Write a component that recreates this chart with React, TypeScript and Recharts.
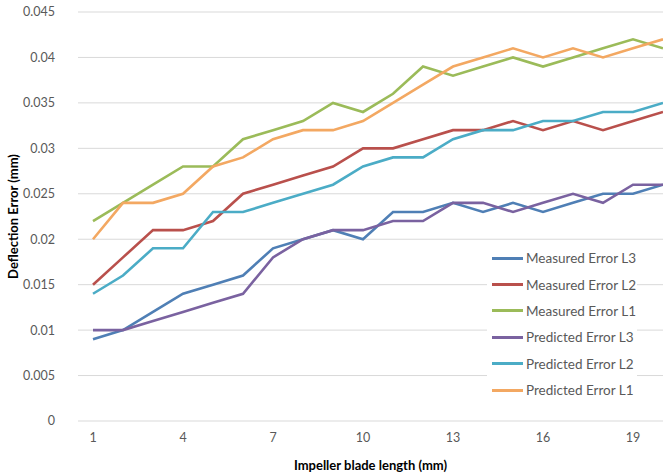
import React from "react"
import { LineChart, Line, XAxis, YAxis, CartesianGrid, Label } from "recharts"

// blade length positions 1..20
const lengths = [1, 2, 3, 4, 5, 6, 7, 8, 9, 10, 11, 12, 13, 14, 15, 16, 17, 18, 19, 20]

const measuredL3 = [0.009, 0.01, 0.012, 0.014, 0.015, 0.016, 0.019, 0.02, 0.021, 0.02, 0.023, 0.023, 0.024, 0.023, 0.024, 0.023, 0.024, 0.025, 0.025, 0.026]
const measuredL2 = [0.015, 0.018, 0.021, 0.021, 0.022, 0.025, 0.026, 0.027, 0.028, 0.03, 0.03, 0.031, 0.032, 0.032, 0.033, 0.032, 0.033, 0.032, 0.033, 0.034]
const measuredL1 = [0.022, 0.024, 0.026, 0.028, 0.028, 0.031, 0.032, 0.033, 0.035, 0.034, 0.036, 0.039, 0.038, 0.039, 0.04, 0.039, 0.04, 0.041, 0.042, 0.041]
const predictedL3 = [0.01, 0.01, 0.011, 0.012, 0.013, 0.014, 0.018, 0.02, 0.021, 0.021, 0.022, 0.022, 0.024, 0.024, 0.023, 0.024, 0.025, 0.024, 0.026, 0.026]
const predictedL2 = [0.014, 0.016, 0.019, 0.019, 0.023, 0.023, 0.024, 0.025, 0.026, 0.028, 0.029, 0.029, 0.031, 0.032, 0.032, 0.033, 0.033, 0.034, 0.034, 0.035]
const predictedL1 = [0.02, 0.024, 0.024, 0.025, 0.028, 0.029, 0.031, 0.032, 0.032, 0.033, 0.035, 0.037, 0.039, 0.04, 0.041, 0.04, 0.041, 0.04, 0.041, 0.042]

const xTicks = [1, 4, 7, 10, 13, 16, 19]
const yTicks = [0, 0.005, 0.01, 0.015, 0.02, 0.025, 0.03, 0.035, 0.04, 0.045]

const series = [
    { key: "mL3", name: "Measured Error L3", color: "#4f7fb5", values: measuredL3 },
    { key: "mL2", name: "Measured Error L2", color: "#b9504c", values: measuredL2 },
    { key: "mL1", name: "Measured Error L1", color: "#9bbb59", values: measuredL1 },
    { key: "pL3", name: "Predicted Error L3", color: "#7a62a0", values: predictedL3 },
    { key: "pL2", name: "Predicted Error L2", color: "#4bacc6", values: predictedL2 },
    { key: "pL1", name: "Predicted Error L1", color: "#f3a862", values: predictedL1 },
]

const data = lengths.map((x, i) => {
    const row: Record<string, number> = { x }
    series.forEach((s) => {
        row[s.key] = s.values[i]
    })
    return row
})

const FONT = "Lato, 'Open Sans', sans-serif"

// legend drawn as an overlay so it doesn't shrink the plot area
const ChartLegend = () => (
    <div style={{ position: "absolute", left: 487, top: 245, width: 150, background: "#fff", fontFamily: FONT }}>
        {series.map((s) => (
            <div key={s.key} style={{ display: "flex", alignItems: "center", height: 26.4 }}>
                <span style={{ display: "inline-block", width: 31, height: 3, background: s.color, marginLeft: 5, marginRight: 3 }} />
                <span style={{ fontSize: 13.5, color: "#595959", whiteSpace: "nowrap" }}>{s.name}</span>
            </div>
        ))}
    </div>
)

// eslint-disable-next-line
const renderYLabel = (props: any) => {
    const { viewBox } = props
    const cy = viewBox.y + viewBox.height / 2
    return (
        <text x={18} y={cy} transform={`rotate(-90 18 ${cy})`} textAnchor="middle" fontSize={13} fontWeight="bold" fill="#000" fontFamily={FONT}>
            Deflection Error (mm)
        </text>
    )
}

export default function App() {
    return (
        <div style={{ position: "absolute", left: 0, top: 0, width: 663, height: 474, overflow: "hidden", background: "#fff" }}>
            <LineChart width={663} height={474} data={data} margin={{ top: 12, right: 0, bottom: 0, left: 0 }}>
                <CartesianGrid vertical={false} stroke="#d9d9d9" />
                <XAxis
                    dataKey="x"
                    type="number"
                    domain={[0.5, 20]}
                    ticks={xTicks}
                    allowDataOverflow
                    height={53}
                    axisLine={false}
                    tickLine={false}
                    tickSize={0}
                    tickMargin={12}
                    tick={{ fontSize: 12.5, fill: "#595959", fontFamily: FONT }}
                >
                    <Label value="Impeller blade length (mm)" position="insideBottom" offset={4} style={{ fontSize: 13, fontWeight: "bold", fill: "#000", fontFamily: FONT }} />
                </XAxis>
                <YAxis
                    type="number"
                    domain={[0, 0.045]}
                    ticks={yTicks}
                    width={78}
                    axisLine={false}
                    tickLine={false}
                    tickSize={0}
                    tickMargin={23}
                    tickFormatter={(v: number) => String(v)}
                    tick={{ fontSize: 12.5, fill: "#595959", fontFamily: FONT }}
                >
                    <Label content={renderYLabel} />
                </YAxis>
                {series.map((s) => (
                    <Line
                        key={s.key}
                        dataKey={s.key}
                        name={s.name}
                        stroke={s.color}
                        strokeWidth={2.6}
                        dot={false}
                        activeDot={false}
                        isAnimationActive={false}
                    />
                ))}
            </LineChart>
            <ChartLegend />
        </div>
    )
}
